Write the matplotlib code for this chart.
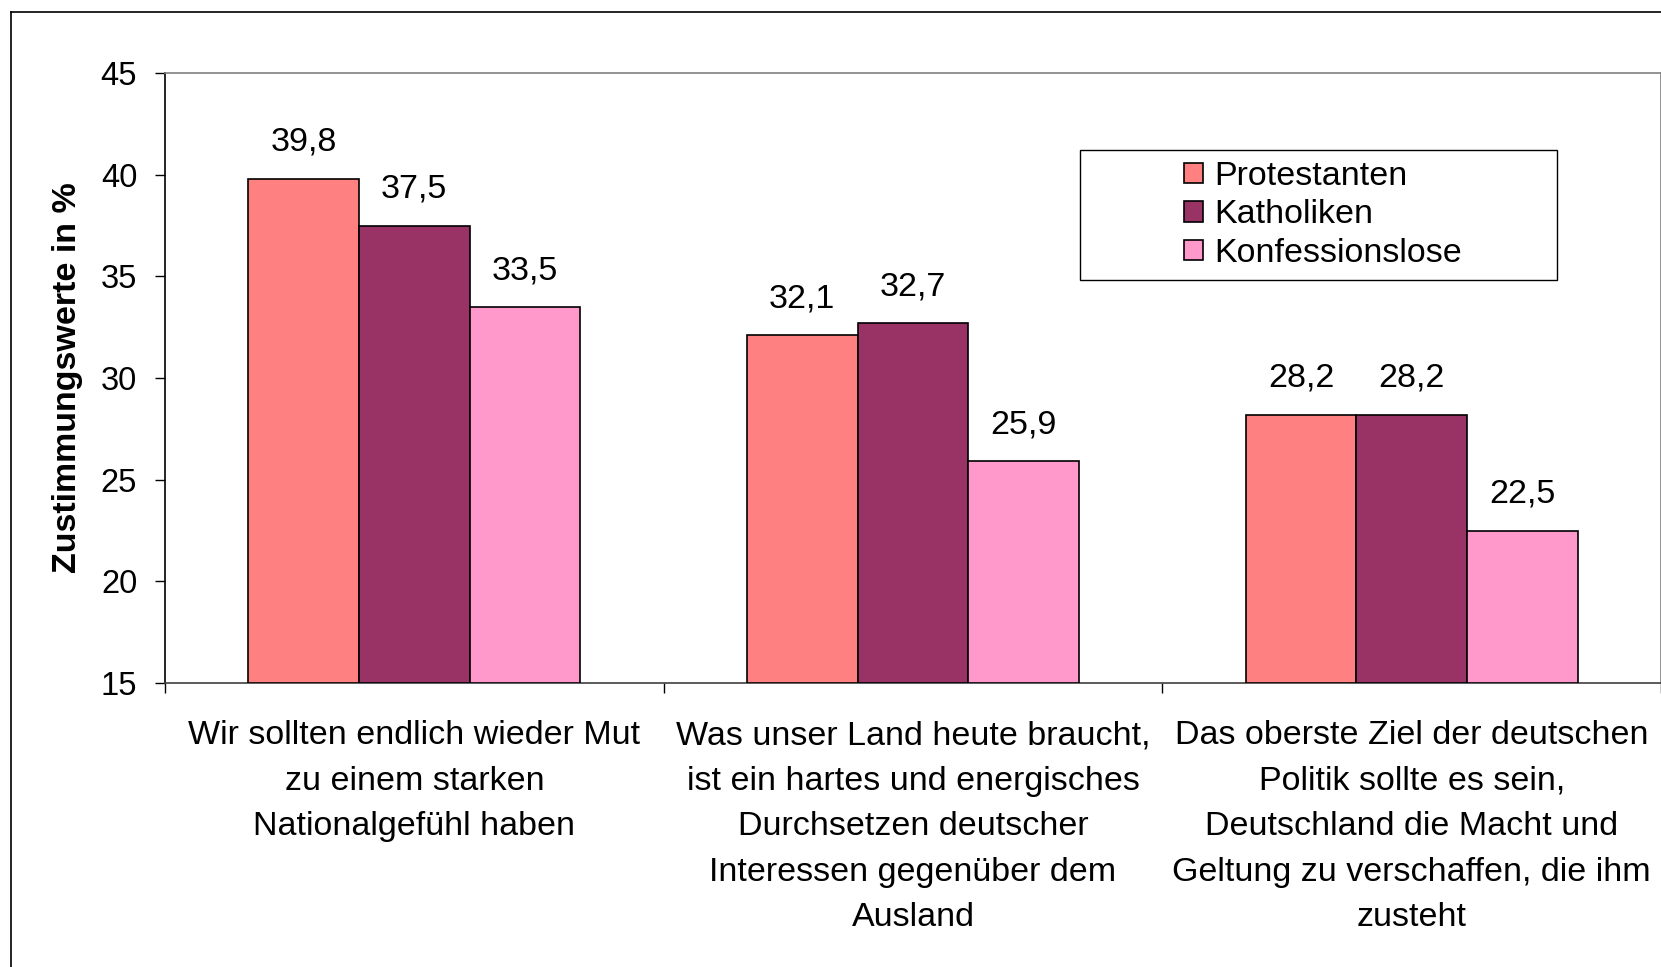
import matplotlib.pyplot as plt
from matplotlib.lines import Line2D
from matplotlib.patches import Rectangle

plt.rcParams["font.family"] = ["Liberation Sans", "DejaVu Sans"]

categories = [
    "Wir sollten endlich wieder Mut\nzu einem starken\nNationalgefühl haben",
    "Was unser Land heute braucht,\nist ein hartes und energisches\nDurchsetzen deutscher\nInteressen gegenüber dem\nAusland",
    "Das oberste Ziel der deutschen\nPolitik sollte es sein,\nDeutschland die Macht und\nGeltung zu verschaffen, die ihm\nzusteht",
]
series_names = ["Protestanten", "Katholiken", "Konfessionslose"]
protestanten = [39.8, 32.1, 28.2]
katholiken = [37.5, 32.7, 28.2]
konfessionslose = [33.5, 25.9, 22.5]
colors = ["#FF8080", "#993366", "#FF99CC"]
y_ticks = [15, 20, 25, 30, 35, 40, 45]

fig = plt.figure(figsize=(16.61, 9.67), dpi=100)
ax = fig.add_axes([165 / 1661, 1 - 683 / 967, 1 - 165 / 1661, 610 / 967])

bar_w = 0.222
x = list(range(len(categories)))
for k, vals in enumerate([protestanten, katholiken, konfessionslose]):
    pos = [i + (k - 1) * bar_w for i in x]
    ax.bar(pos, [v - 15 for v in vals], bottom=15, width=bar_w,
           color=colors[k], edgecolor="black", linewidth=1.2,
           label=series_names[k], zorder=3)
    for p, v in zip(pos, vals):
        ax.annotate(f"{v:.1f}".replace(".", ","), (p, v),
                    xytext=(0, 20), textcoords="offset points",
                    ha="center", va="baseline", fontsize=24.5)

ax.set_xlim(-0.5, 2.5)
ax.set_ylim(15, 45)
ax.set_yticks(y_ticks)
ax.set_yticklabels([str(t) for t in y_ticks], fontsize=23.5)
ax.set_xticks(x)
ax.set_xticklabels(categories, fontsize=24.5, linespacing=1.6)
ax.set_xticks([-0.5, 0.5, 1.5, 2.5], minor=True)
ax.tick_params(axis="x", which="major", length=0, pad=27)
ax.tick_params(axis="x", which="minor", length=7, width=1, direction="out")
ax.tick_params(axis="y", length=7, width=1, direction="out", pad=13)

ax.spines["top"].set_color("#808080")
ax.spines["right"].set_color("#808080")
ax.spines["left"].set_color("black")
ax.spines["bottom"].set_color("#404040")
for s in ax.spines.values():
    s.set_linewidth(1.2)

ax.set_ylabel("Zustimmungswerte in %", fontsize=24.5, fontweight="bold", labelpad=13)

# legend box
ax.add_patch(Rectangle((0.6116, 0.661), 0.319, 0.213, transform=ax.transAxes,
                       facecolor="white", edgecolor="black", linewidth=1, zorder=4))
ax.legend(loc="center", bbox_to_anchor=(0.6116 + 0.319 / 2 + 0.003, 0.661 + 0.213 / 2),
          frameon=False, fontsize=24.5, handlelength=0.55, handleheight=0.55,
          handletextpad=0.35, labelspacing=0.22, borderpad=0)

# outer frame
fig.add_artist(Line2D([11 / 1661, 11 / 1661], [0, 1 - 12 / 967], color="black", linewidth=1.2))
fig.add_artist(Line2D([11 / 1661, 1], [1 - 12 / 967, 1 - 12 / 967], color="black", linewidth=1.2))

plt.savefig("out.png", dpi=100)
